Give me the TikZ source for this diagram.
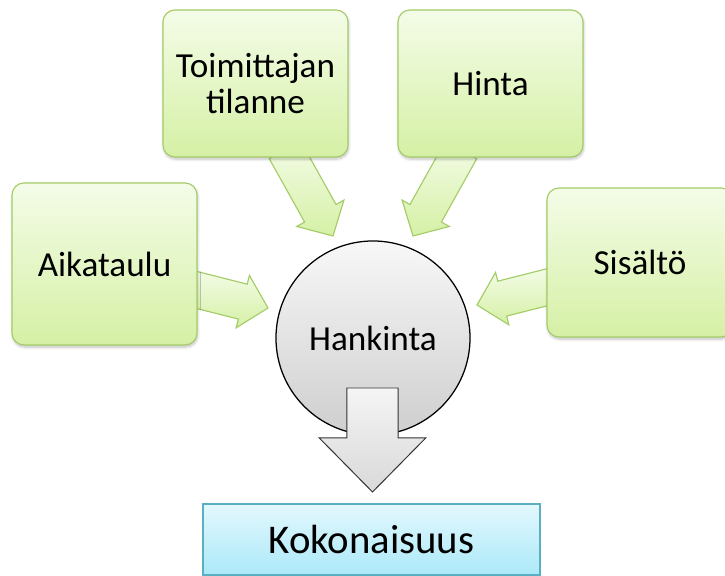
\documentclass[tikz,border=0pt]{standalone}
\usepackage{fontspec}
\setmainfont{Carlito}
\usetikzlibrary{calc}
\usetikzlibrary{shadows.blur}
\usetikzlibrary{backgrounds}
\definecolor{leafTop}{HTML}{F4FCE8}
\definecolor{leafBot}{HTML}{D5F0A5}
\definecolor{leafLine}{HTML}{A3CC66}
\definecolor{skyTop}{HTML}{E3F8FD}
\definecolor{skyBot}{HTML}{ABE9F9}
\definecolor{skyLine}{HTML}{5BAFC3}
\newcommand{\boxfont}{\fontsize{25}{26}\selectfont}
% block arrow: style, start, tip, shaft half width, head half width, head length
\newcommand{\fatarrow}[6]{%
    \coordinate (hb) at ($(#3)!#6!(#2)$);
    \path[#1] ($(#2)!#4!90:(#3)$) -- ($(hb)!#4!90:(#3)$) -- ($(hb)!#5!90:(#3)$) -- (#3)
        -- ($(hb)!#5!-90:(#3)$) -- ($(hb)!#4!-90:(#3)$) -- ($(#2)!#4!-90:(#3)$) -- cycle;
}
\tikzset{
factor_box/.style={rectangle, rounded corners=0.3cm, draw=leafLine, line width=0.8pt, top color=leafTop, bottom color=leafBot, minimum width=4.625cm, minimum height=3.675cm, align=center, font=\boxfont, blur shadow={shadow xshift=0.5pt, shadow yshift=-1.5pt, shadow blur steps=6, shadow opacity=25}},
core/.style={circle, draw=black, line width=0.9pt, top color=gray!6, bottom color=gray!38, minimum size=4.85cm, font=\boxfont},
result_box/.style={rectangle, draw=skyLine, line width=1pt, top color=skyTop, bottom color=skyBot, minimum width=8.425cm, minimum height=1.775cm, font=\fontsize{29}{30}\selectfont},
feed/.style={draw=leafLine, line width=0.8pt, top color=leafTop, bottom color=leafBot, line join=miter},
outflow/.style={draw=black!80, line width=0.7pt, top color=gray!8, bottom color=gray!30, line join=miter}
}
\begin{document}
\begin{tikzpicture}[x=0.025cm, y=-0.025cm]
    \useasboundingbox (0,0) rectangle (725,576);
    \node[factor_box] (toim) at (255.5,83.5) {Toimittajan\\tilanne};
    \node[factor_box] (hinta) at (490.5,83.5) {Hinta};
    \node[factor_box, minimum height=4.05cm] (aika) at (104.5,264) {Aikataulu};
    \node[factor_box, minimum width=4.65cm, minimum height=3.725cm] (sis) at (640,262.5) {Sisältö};
    \node[core] (hank) at (373,338) {Hankinta};
    \node[result_box] (koko) at (371.5,539.5) {Kokonaisuus};
    % arrow ends
    \coordinate (toim_out) at (285,150);
    \coordinate (toim_in) at (333,236);
    \coordinate (hinta_out) at (461,150);
    \coordinate (hinta_in) at (413,236);
    \coordinate (aika_out) at (185,287);
    \coordinate (aika_in) at (268,308);
    \coordinate (sis_out) at (560,284);
    \coordinate (sis_in) at (477,305);
    \coordinate (hank_out) at (372.5,388);
    \coordinate (koko_in) at (372.5,492);
    \begin{pgfonlayer}{background}
        \fatarrow{feed}{toim_out}{toim_in}{0.45cm}{0.675cm}{0.65cm}
        \fatarrow{feed}{hinta_out}{hinta_in}{0.45cm}{0.675cm}{0.65cm}
        \fatarrow{feed}{aika_out}{aika_in}{0.45cm}{0.675cm}{0.65cm}
        \fatarrow{feed}{sis_out}{sis_in}{0.45cm}{0.675cm}{0.65cm}
    \end{pgfonlayer}
    \fatarrow{outflow}{hank_out}{koko_in}{0.64cm}{1.33cm}{1.35cm}
\end{tikzpicture}
\end{document}
